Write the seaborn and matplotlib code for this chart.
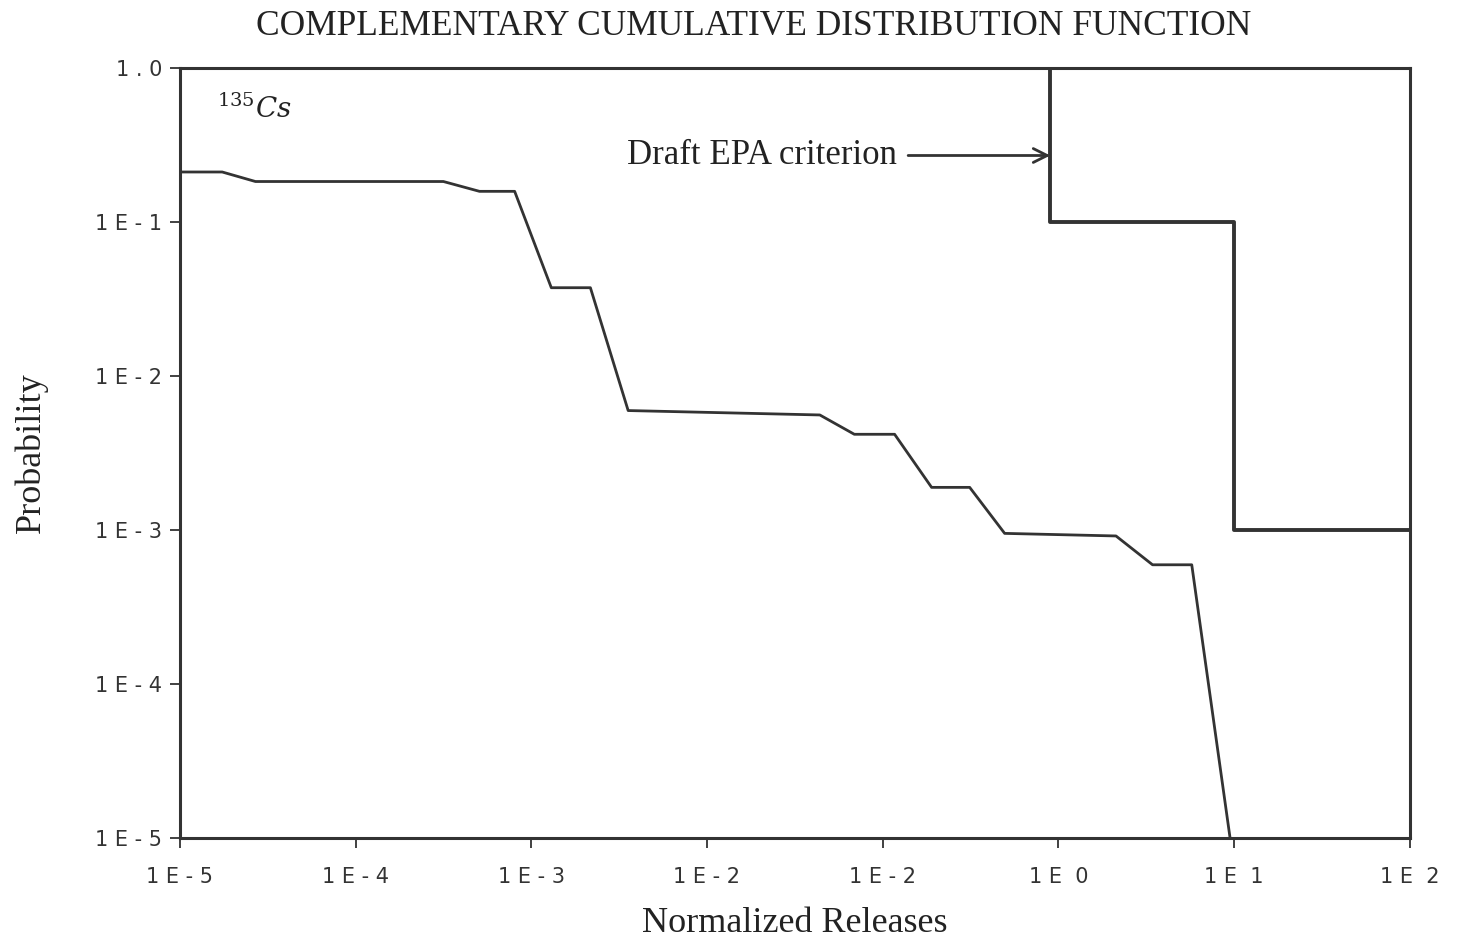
import numpy as np
import pandas as pd
import matplotlib
matplotlib.use('Agg')
import matplotlib.pyplot as plt
import seaborn as sns

# CCDF for 135Cs
release = [1e-5, 1.74e-5, 2.69e-5, 3.16e-4, 5.07e-4, 8.04e-4, 1.30e-3, 2.17e-3,
           3.56e-3, 4.39e-2, 6.90e-2, 0.117, 0.190, 0.313, 0.495, 2.13, 3.44, 5.75, 9.5]
prob = [0.211, 0.211, 0.183, 0.183, 0.158, 0.158, 0.0374, 0.0374,
        0.00596, 0.00558, 0.00418, 0.00418, 0.00189, 0.00189, 0.00095, 0.000914,
        0.000594, 0.000594, 1e-5]

# draft EPA criterion (step)
epa_release = [1e-5, 0.9, 10.0, 100.0]
epa_prob = [1.0, 0.1, 1e-3, 1e-3]

x_ticks = [1e-5, 1e-4, 1e-3, 1e-2, 1e-1, 1e0, 1e1, 1e2]
x_labels = ['1 E - 5', '1 E - 4', '1 E - 3', '1 E - 2', '1 E - 2', '1 E  0', '1 E  1', '1 E  2']
y_ticks = [1.0, 1e-1, 1e-2, 1e-3, 1e-4, 1e-5]
y_labels = ['1 . 0', '1 E - 1', '1 E - 2', '1 E - 3', '1 E - 4', '1 E - 5']

df = pd.DataFrame({'release': release, 'prob': prob})
df_epa = pd.DataFrame({'release': epa_release, 'prob': epa_prob})

sns.set_style('white')
plt.rcParams['mathtext.fontset'] = 'dejavuserif'
ink = '#333333'

fig = plt.figure(figsize=(14.57, 9.46), dpi=100)
ax = fig.add_axes([0.1235, 0.1142, 0.844, 0.814])

sns.lineplot(data=df, x='release', y='prob', ax=ax, color=ink, lw=2.0, sort=False)
sns.lineplot(data=df_epa, x='release', y='prob', ax=ax, color=ink, lw=2.8,
             drawstyle='steps-post', sort=False)

ax.set_xscale('log')
ax.set_yscale('log')
ax.set_xlim(1e-5, 1e2)
ax.set_ylim(1e-5, 1.0)
ax.set_xticks(x_ticks)
ax.set_xticklabels(x_labels)
ax.set_yticks(y_ticks)
ax.set_yticklabels(y_labels)
ax.minorticks_off()
ax.tick_params(axis='both', which='major', bottom=True, left=True, direction='out',
               length=7, width=1.3, colors=ink, labelsize=15)
ax.tick_params(axis='x', pad=14)
ax.tick_params(axis='y', pad=6)
for lab in ax.get_xticklabels() + ax.get_yticklabels():
    lab.set_family('DejaVu Sans')
for s in ax.spines.values():
    s.set_color(ink)
    s.set_linewidth(2.2)

serif = 'Liberation Serif'
ax.set_xlabel('Normalized Releases', fontsize=26, family=serif, color='#222222', labelpad=14)
ax.set_ylabel('Probability', fontsize=26, family=serif, color='#222222', labelpad=34)
fig.text(0.517, 0.972, 'COMPLEMENTARY CUMULATIVE DISTRIBUTION FUNCTION', ha='center', va='center',
         fontsize=25.5, family=serif, color='#222222')

ax.text(0.03, 0.965, r'$^{135}Cs$', transform=ax.transAxes, fontsize=20,
        color='#222222', va='top', ha='left')
ax.annotate('Draft EPA criterion', xy=(0.9, 0.27), xytext=(0.12, 0.27),
            xycoords='data', textcoords=('data', 'data'),
            fontsize=25, family=serif, color='#222222', va='center', ha='right',
            arrowprops=dict(arrowstyle='->', color=ink, lw=2.0, shrinkA=6, shrinkB=0))

fig.savefig('out.png', dpi=100, facecolor='white')
